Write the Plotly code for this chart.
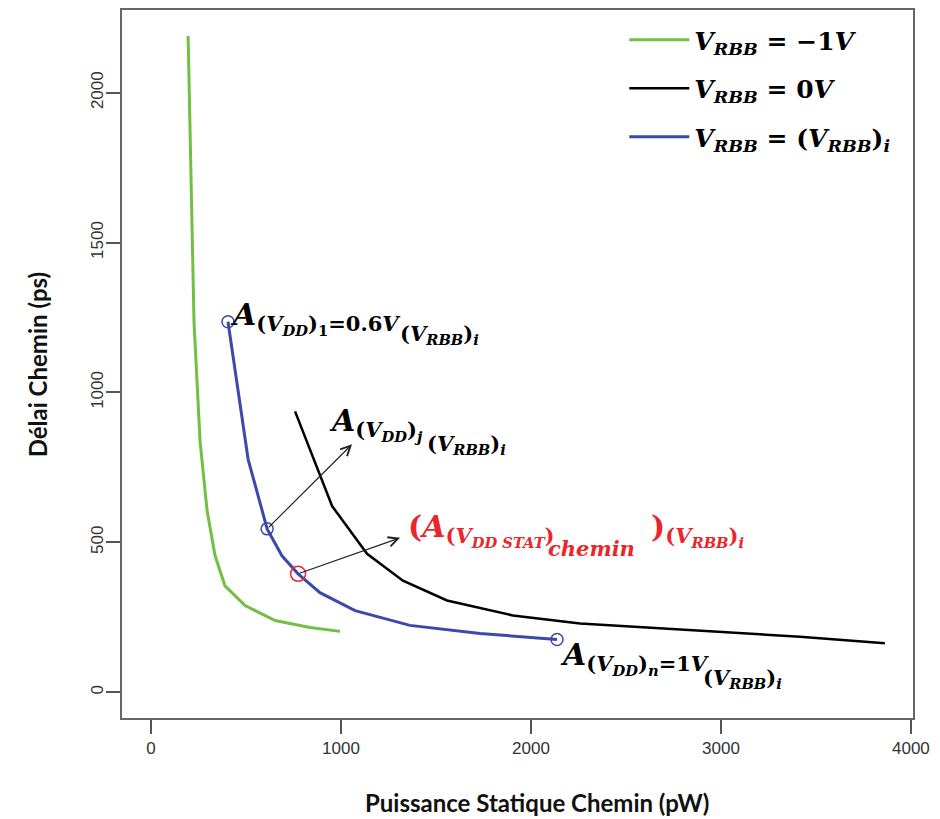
import plotly.graph_objects as go

# VRBB = -1V (vert)
puissance_m1 = [195, 226, 258, 295, 337, 389, 495, 653, 837, 995]
delai_m1 = [2189, 1236, 837, 605, 455, 355, 289, 239, 216, 203]

# VRBB = 0V (noir)
puissance_0 = [758, 953, 1137, 1326, 1558, 1905, 2258, 2889, 3416, 3863]
delai_0 = [937, 621, 462, 372, 306, 256, 229, 205, 185, 163]

# VRBB = (VRBB)i (bleu)
puissance_i = [405, 511, 611, 689, 774, 889, 1074, 1363, 1732, 2137]
delai_i = [1236, 777, 545, 455, 395, 332, 272, 223, 196, 176]

# points remarquables sur la courbe bleue
idx_bleus = [0, 2, 9]
idx_rouge = 4

x_ticks = [0, 1000, 2000, 3000, 4000]
y_ticks = [0, 500, 1000, 1500, 2000]

VERT = '#72BF44'
BLEU = '#3B49AB'
ROUGE = '#E8262C'
SERIF = 'DejaVu Serif'

fig = go.Figure()

fig.add_trace(go.Scatter(
    x=puissance_m1, y=delai_m1, mode='lines', line=dict(color=VERT, width=3),
    name='<b><i>V</i><sub><i>RBB</i></sub> = −1<i>V</i></b>', legendgroup='a'))
fig.add_trace(go.Scatter(
    x=puissance_0, y=delai_0, mode='lines', line=dict(color='black', width=2.5),
    name='<b><i>V</i><sub><i>RBB</i></sub> = 0<i>V</i></b>', legendgroup='b'))
fig.add_trace(go.Scatter(
    x=puissance_i, y=delai_i, mode='lines', line=dict(color=BLEU, width=3),
    name='<b><i>V</i><sub><i>RBB</i></sub> = (<i>V</i><sub><i>RBB</i></sub>)<sub><i>i</i></sub></b>',
    legendgroup='c'))

fig.add_trace(go.Scatter(
    x=[puissance_i[k] for k in idx_bleus], y=[delai_i[k] for k in idx_bleus],
    mode='markers', marker=dict(symbol='circle-open', size=12, color=BLEU, line=dict(width=1.5)),
    showlegend=False))
fig.add_trace(go.Scatter(
    x=[puissance_i[idx_rouge]], y=[delai_i[idx_rouge]],
    mode='markers', marker=dict(symbol='circle-open', size=15, color=ROUGE, line=dict(width=1.5)),
    showlegend=False))

# fleches
fleches = [
    (puissance_i[2], delai_i[2], 1058, 827),
    (puissance_i[idx_rouge], delai_i[idx_rouge], 1311, 515),
]
for x0, y0, x1, y1 in fleches:
    fig.add_annotation(x=x1, y=y1, ax=x0, ay=y0, xref='x', yref='y', axref='x', ayref='y',
                       text='', showarrow=True, arrowhead=5, arrowsize=1.6, arrowwidth=1.2,
                       arrowcolor='#222')

def etiquette(x, y, texte, taille, couleur='black'):
    fig.add_annotation(x=x, y=y, xref='x', yref='y', text='<b>' + texte + '</b>',
                       showarrow=False, xanchor='left', yanchor='middle',
                       font=dict(family=SERIF, size=taille, color=couleur))

SUB_V = '(<i>V</i><sub><i>{}</i></sub>)'

etiquette(405, 1250, '<i>A</i><sub>' + SUB_V.format('DD') + '<sub>1</sub>=0.6<i>V</i></sub>', 30)
etiquette(1300, 1193, SUB_V.format('RBB') + '<sub><i>i</i></sub>', 21)

etiquette(925, 895, '<i>A</i><sub>' + SUB_V.format('DD') + '<sub><i>j</i></sub></sub>', 30)
etiquette(1440, 827, SUB_V.format('RBB') + '<sub><i>i</i></sub>', 21)

etiquette(1340, 540, '(<i>A</i><sub>(<i>V</i><sub><i>DD STAT</i></sub>)</sub>', 30, ROUGE)
etiquette(2080, 478, '<i>chemin</i>', 21, ROUGE)
etiquette(2620, 540, ')<sub>' + SUB_V.format('RBB') + '<sub><i>i</i></sub></sub>', 30, ROUGE)

etiquette(2140, 115, '<i>A</i><sub>' + SUB_V.format('DD') + '<sub><i>n</i></sub>=1<i>V</i></sub>', 30)
etiquette(2895, 47, SUB_V.format('RBB') + '<sub><i>i</i></sub>', 21)

# titres d'axes
fig.add_annotation(x=0.525, y=-0.12, xref='paper', yref='paper', showarrow=False,
                   text='<b>Puissance Statique Chemin (pW)</b>', yanchor='middle',
                   font=dict(family='Lato', size=24, color='#111'))
fig.add_annotation(x=-0.107, y=0.5, xref='paper', yref='paper', showarrow=False, textangle=-90,
                   text='<b>Délai Chemin (ps)</b>', xanchor='center',
                   font=dict(family='Lato', size=24, color='#111'))

axe = dict(showgrid=False, zeroline=False, showline=True, linecolor='#666', linewidth=1.5,
           mirror=True, ticks='outside', ticklen=14, tickcolor='#555', tickwidth=1.5,
           tickfont=dict(family='Liberation Sans', size=17, color='#333'))

fig.update_xaxes(range=[-153, 4011], tickvals=x_ticks, ticktext=[str(v) for v in x_ticks], **axe)
fig.update_yaxes(range=[-86, 2276], tickvals=y_ticks, ticktext=[str(v) for v in y_ticks],
                 tickangle=-90, ticklabelstandoff=-4, **axe)

fig.update_layout(
    width=940, height=819,
    margin=dict(l=114, r=35, t=0, b=109),
    plot_bgcolor='white', paper_bgcolor='white',
    showlegend=True,
    legend=dict(x=0.635, y=0.99, xanchor='left', yanchor='top', bgcolor='rgba(0,0,0,0)',
                tracegroupgap=13, itemwidth=60,
                font=dict(family=SERIF, size=25, color='black'), traceorder='grouped'),
)

fig.write_html("out.html")
